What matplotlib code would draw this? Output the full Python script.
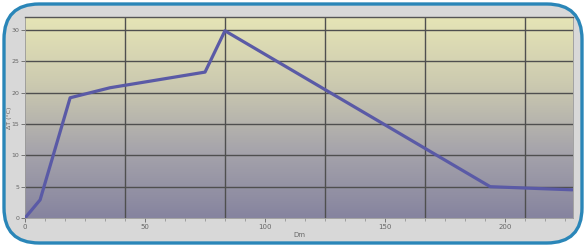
import numpy as np
import matplotlib
matplotlib.use("Agg")
import matplotlib.pyplot as plt
from matplotlib.patches import FancyBboxPatch
from matplotlib.colors import LinearSegmentedColormap

# Data
x_vals = [0, 6.3, 18.8, 35.4, 75.0, 83.3, 193.8, 228.0]
y_vals = [0, 2.9, 19.2, 20.8, 23.3, 29.9, 5.0, 4.5]
x_ticks = [0, 50, 100, 150, 200]
x_tick_labels = ["0", "50", "100", "150", "200"]
y_ticks = [0, 5, 10, 15, 20, 25, 30]
y_tick_labels = ["0", "5", "10", "15", "20", "25", "30"]
x_grid = [41.7, 83.3, 125.0, 166.7, 208.3]
x_label = "Dm"
y_label = "ΔT (°C)"

W, H = 586, 247
fig = plt.figure(figsize=(W / 100, H / 100), dpi=100)
fig.patch.set_facecolor("white")

# rounded border
box = FancyBboxPatch((4 / W, 4 / H), (W - 8) / W, (H - 8) / H,
                     boxstyle="round,pad=0,rounding_size=0.06",
                     transform=fig.transFigure, facecolor="#d8d8d8",
                     edgecolor="#2a86b8", linewidth=2.4, zorder=-10,
                     mutation_aspect=W / H)
fig.patches.append(box)

ax = fig.add_axes([25 / W, (H - 218) / H, 548 / W, 201 / H])
ax.set_zorder(1)
ax.patch.set_alpha(0)
xmax, ymax = 228.3, 32.1
ax.set_xlim(0, xmax)
ax.set_ylim(0, ymax)

cmap = LinearSegmentedColormap.from_list(
    "bg", ["#86849f", "#a6a4ab", "#cccab0", "#e6e5b6"])
grad = np.linspace(0, 1, 256).reshape(-1, 1)
ax.imshow(grad, extent=[0, xmax, 0, ymax], origin="lower", aspect="auto",
          cmap=cmap, zorder=0)

for yv in y_ticks[1:]:
    ax.axhline(yv, color="#4f4f4f", lw=1.0, zorder=1)
for xv in x_grid:
    ax.axvline(xv, color="#4f4f4f", lw=1.0, zorder=1)

ax.plot(x_vals, y_vals, color="#5a5aa6", lw=2.3, zorder=3,
        solid_joinstyle="round", solid_capstyle="round")

ax.set_xticks(x_ticks)
ax.set_xticklabels(x_tick_labels)
ax.set_xticks(np.arange(0, xmax, 50 / 6), minor=True)
ax.set_yticks(y_ticks)
ax.set_yticklabels(y_tick_labels)
ax.tick_params(axis="both", labelsize=5, colors="#666666", length=3, width=0.6,
               pad=1.5)
ax.tick_params(axis="y", labelsize=4.5, pad=1)
ax.tick_params(axis="x", which="minor", length=2, width=0.5, colors="#888888")
for s in ax.spines.values():
    s.set_color("#999999")
    s.set_linewidth(0.6)
ax.spines["top"].set_color("#555555")
ax.spines["top"].set_linewidth(1.0)

ax.set_xlabel(x_label, fontsize=5, color="#666666", labelpad=1)
ax.set_ylabel(y_label, fontsize=4.5, color="#666666")
ax.yaxis.set_label_coords(-0.024, 0.5)

fig.savefig("out.png", dpi=100, facecolor=fig.get_facecolor())
